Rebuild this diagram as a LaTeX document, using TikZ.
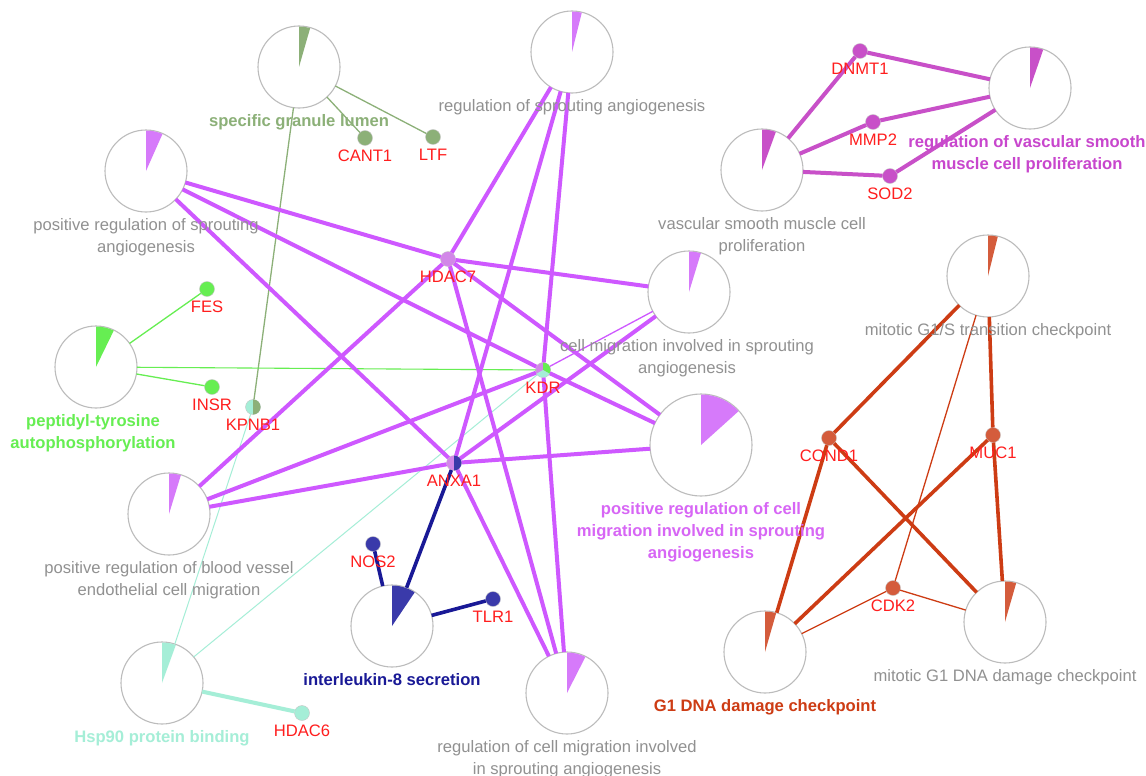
\documentclass[tikz,border=0pt]{standalone}
\usepackage{fontspec}
\setmainfont{Liberation Sans}
\usetikzlibrary{positioning}
\definecolor{circgray}{RGB}{188,188,188}
\definecolor{labgray}{RGB}{145,145,145}
\definecolor{genered}{RGB}{255,30,30}
\definecolor{angpink}{RGB}{206,88,255}
\definecolor{angwedge}{RGB}{214,122,250}
\definecolor{anglab}{RGB}{215,102,245}
\definecolor{hdacpink}{RGB}{210,135,232}
\definecolor{vsmmag}{RGB}{200,80,200}
\definecolor{vsmlab}{RGB}{200,70,205}
\definecolor{granule}{RGB}{140,176,120}
\definecolor{tyrgreen}{RGB}{102,238,82}
\definecolor{hspcyan}{RGB}{165,238,215}
\definecolor{ilnavy}{RGB}{25,25,150}
\definecolor{ilwedge}{RGB}{58,58,170}
\definecolor{gonered}{RGB}{205,60,20}
\definecolor{gonedot}{RGB}{212,92,60}
\newcommand{\labfont}{\fontsize{16.6}{22}\selectfont}

\begin{document}
\begin{tikzpicture}[x=1pt, y=1pt,
  term/.style={circle, draw=circgray, fill=white, line width=1.1pt, minimum size=82pt, inner sep=0pt, outer sep=0pt},
  gene/.style={circle, fill=#1, draw=white!55!gray, line width=0.4pt, minimum size=15pt, inner sep=0pt, outer sep=0pt},
  glab/.style={text=genered, inner sep=0pt, font=\labfont},
  tlab/.style={text=labgray, inner sep=0pt, align=center, font=\labfont},
  blab/.style={text=#1, inner sep=0pt, align=center, font=\labfont\bfseries},
  fat/.style={line width=4pt, #1},
  slim/.style={line width=1.3pt, #1}]
\fill[white] (0,0) rectangle (1146,-776);
\useasboundingbox (0,0) rectangle (1146,-776);

% terms
\node[term] (sgl) at (299,-67) {};
\node[term] (rsa) at (572,-52) {};
\node[term] (prsa) at (146,-171) {};
\node[term] (vsmcp) at (762,-170) {};
\node[term] (rvsmcp) at (1030,-88) {};
\node[term] (cmisa) at (689,-292) {};
\node[term] (mg1s) at (988,-276) {};
\node[term] (pta) at (96,-367) {};
\node[term, minimum size=102pt] (prcm) at (701,-445) {};
\node[term] (prbv) at (169,-514) {};
\node[term] (hsp) at (162,-683) {};
\node[term] (il8) at (392,-626) {};
\node[term] (rcm) at (567,-693) {};
\node[term] (g1ddc) at (765,-652) {};
\node[term] (mg1ddc) at (1005,-622) {};

% genes
\node[gene=granule] (cant1) at (365,-138) {};
\node[gene=granule] (ltf) at (433,-137) {};
\node[gene=vsmmag] (dnmt1) at (860,-51) {};
\node[gene=vsmmag] (mmp2) at (873,-122) {};
\node[gene=vsmmag] (sod2) at (890,-176) {};
\node[gene=tyrgreen] (fes) at (207,-289) {};
\node[gene=tyrgreen] (insr) at (212,-387) {};
\node[gene=hspcyan] (kpnb1) at (253,-407) {};
\node[gene=hdacpink] (hdac7) at (448,-259) {};
\node[gene=hdacpink] (kdr) at (543,-370) {};
\node[gene=hdacpink] (anxa1) at (454,-463) {};
\node[gene=ilwedge] (nos2) at (373,-544) {};
\node[gene=ilwedge] (tlr1) at (493,-599) {};
\node[gene=hspcyan] (hdac6) at (302,-713) {};
\node[gene=gonedot] (cond1) at (829,-438) {};
\node[gene=gonedot] (muc1) at (993,-435) {};
\node[gene=gonedot] (cdk2) at (893,-588) {};

% edges
\draw[slim=granule] (sgl) -- (cant1) (sgl) -- (ltf) (sgl) -- (kpnb1);
\draw[slim=tyrgreen] (pta) -- (fes) (pta) -- (insr);
\draw[tyrgreen, line width=1.1pt] (pta) -- (kdr);
\draw[fat=hspcyan] (hsp) -- (hdac6);
\draw[hspcyan, line width=1pt] (hsp) -- (kpnb1) (hsp) -- (kdr);
\draw[ilnavy, line width=3.6pt] (il8) -- (nos2) (il8) -- (tlr1) (il8) -- (anxa1);
\foreach \g in {dnmt1,mmp2,sod2}
  \draw[fat=vsmmag] (vsmcp) -- (\g) -- (rvsmcp);
\foreach \t in {prsa,rsa,prcm,prbv,rcm}
  \draw[fat=angpink] (\t) -- (hdac7) (\t) -- (kdr) (\t) -- (anxa1);
\draw[fat=angpink] (cmisa) -- (hdac7) (cmisa) -- (anxa1);
\draw[slim=angpink] (cmisa) -- (kdr);
\foreach \t in {mg1s,g1ddc,mg1ddc} {
  \draw[gonered, line width=3.6pt] (\t) -- (cond1) (\t) -- (muc1);
  \draw[slim=gonered] (\t) -- (cdk2);
}

% pie wedges
\foreach \t/\a/\rad/\c in {sgl/16/40.5/granule, rsa/14/40.5/angwedge, prsa/24/40.5/angwedge,
    vsmcp/20/40.5/vsmmag, rvsmcp/19/40.5/vsmmag, cmisa/17/40.5/angwedge, mg1s/14/40.5/gonedot,
    pta/26/40.5/tyrgreen, prcm/48/50.5/angwedge, prbv/17/40.5/angwedge, hsp/20/40.5/hspcyan,
    il8/34/40.5/ilwedge, rcm/27/40.5/angwedge, g1ddc/16/40.5/gonedot, mg1ddc/16/40.5/gonedot}
  \fill[\c] (\t.center) -- ++(90:\rad pt) arc[start angle=90, end angle=90-\a, radius=\rad pt] -- cycle;

% shared genes
\fill[granule] (kpnb1.north) arc[start angle=90, end angle=-90, radius=7.5pt] -- cycle;
\fill[ilwedge] (anxa1.north) arc[start angle=90, end angle=-90, radius=7.5pt] -- cycle;
\fill[tyrgreen] (kdr.center) -- (kdr.north) arc[start angle=90, end angle=-30, radius=7.5pt] -- cycle;
\fill[hspcyan] (kdr.center) -- (kdr.-30) arc[start angle=-30, end angle=-150, radius=7.5pt] -- cycle;

% gene labels
\foreach \g/\txt in {cant1/CANT1, ltf/LTF, dnmt1/DNMT1, mmp2/MMP2, sod2/SOD2, fes/FES, insr/INSR,
    kpnb1/KPNB1, hdac7/HDAC7, kdr/KDR, anxa1/ANXA1, nos2/NOS2, tlr1/TLR1, hdac6/HDAC6,
    cond1/COND1, muc1/MUC1, cdk2/CDK2}
  \node[glab, below=4.5pt of \g] (\g-l) {\txt};

% term labels
\node[blab=granule, below=6.5pt of sgl] (sgl-l) {specific granule lumen};
\node[tlab, below=6.5pt of rsa] (rsa-l) {regulation of sprouting angiogenesis};
\node[tlab, below=6.5pt of prsa] (prsa-l) {positive regulation of sprouting\\angiogenesis};
\node[tlab, below=6.5pt of vsmcp] (vsmcp-l) {vascular smooth muscle cell\\proliferation};
\node[blab=vsmlab, below=6.5pt of rvsmcp, xshift=-3pt] (rvsmcp-l) {regulation of vascular smooth\\muscle cell proliferation};
\node[tlab, below=6.5pt of cmisa, xshift=-2pt] (cmisa-l) {cell migration involved in sprouting\\angiogenesis};
\node[tlab, below=6.5pt of mg1s] (mg1s-l) {mitotic G1/S transition checkpoint};
\node[blab=tyrgreen, below=6.5pt of pta, xshift=-3pt] (pta-l) {peptidyl-tyrosine\\autophosphorylation};
\node[blab=anglab, below=6.5pt of prcm] (prcm-l) {positive regulation of cell\\migration involved in sprouting\\angiogenesis};
\node[tlab, below=6.5pt of prbv] (prbv-l) {positive regulation of blood vessel\\endothelial cell migration};
\node[blab=hspcyan, below=6.5pt of hsp] (hsp-l) {Hsp90 protein binding};
\node[blab=ilnavy, below=6.5pt of il8] (il8-l) {interleukin-8 secretion};
\node[tlab, below=6.5pt of rcm] (rcm-l) {regulation of cell migration involved\\in sprouting angiogenesis};
\node[blab=gonered, below=6.5pt of g1ddc] (g1ddc-l) {G1 DNA damage checkpoint};
\node[tlab, below=6.5pt of mg1ddc] (mg1ddc-l) {mitotic G1 DNA damage checkpoint};
\end{tikzpicture}
\end{document}
